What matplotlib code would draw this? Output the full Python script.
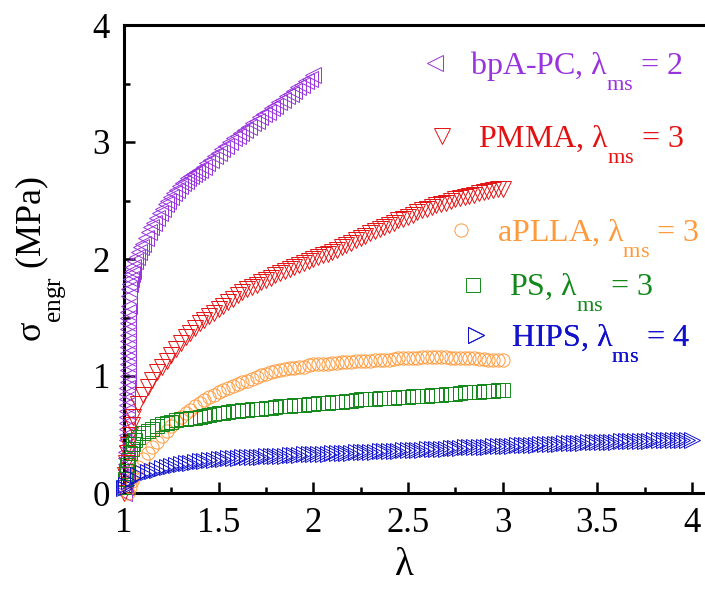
import matplotlib
matplotlib.use('Agg')
import matplotlib.pyplot as plt
from matplotlib.ticker import MultipleLocator, FuncFormatter

plt.rcParams['font.family'] = ['Liberation Serif', 'DejaVu Serif']
plt.rcParams['mathtext.fontset'] = 'custom'
plt.rcParams['mathtext.rm'] = 'Liberation Serif'
plt.rcParams['mathtext.it'] = 'Liberation Serif:italic'
plt.rcParams['mathtext.bf'] = 'Liberation Serif:bold'

# --- data: stretch ratio lambda, engineering stress (MPa) ---
lam_pc = [1.000, 1.003, 1.006, 1.008, 1.010, 1.011, 1.012, 1.013, 1.014, 1.014,
          1.015, 1.015, 1.016, 1.016, 1.017, 1.017, 1.018, 1.018, 1.018, 1.019,
          1.019, 1.019, 1.020, 1.020, 1.020, 1.021, 1.021, 1.021, 1.022, 1.022,
          1.022, 1.023, 1.024, 1.025, 1.027, 1.030, 1.035, 1.040, 1.045, 1.050,
          1.060, 1.070, 1.080, 1.090, 1.100, 1.115, 1.130, 1.145, 1.160, 1.175,
          1.190, 1.205, 1.220, 1.235, 1.250, 1.265, 1.280, 1.295, 1.310, 1.325,
          1.340, 1.355, 1.370, 1.385, 1.400, 1.420, 1.440, 1.460, 1.480, 1.500,
          1.520, 1.540, 1.560, 1.580, 1.600, 1.620, 1.640, 1.660, 1.680, 1.700,
          1.720, 1.740, 1.760, 1.780, 1.800, 1.820, 1.840, 1.860, 1.880, 1.900,
          1.920, 1.940, 1.960, 1.980, 2.000]
sig_pc = [0.00, 0.05, 0.10, 0.15, 0.20, 0.25, 0.30, 0.35, 0.40, 0.45,
          0.50, 0.55, 0.60, 0.65, 0.70, 0.75, 0.80, 0.85, 0.90, 0.95,
          1.00, 1.05, 1.10, 1.15, 1.20, 1.25, 1.30, 1.35, 1.40, 1.45,
          1.50, 1.55, 1.60, 1.68, 1.74, 1.79, 1.83, 1.87, 1.90, 1.93,
          1.98, 2.02, 2.06, 2.10, 2.13, 2.18, 2.23, 2.27, 2.31, 2.35,
          2.39, 2.43, 2.47, 2.50, 2.53, 2.56, 2.59, 2.62, 2.65, 2.67,
          2.69, 2.71, 2.73, 2.745, 2.76, 2.79, 2.82, 2.85, 2.88, 2.91,
          2.94, 2.97, 3.00, 3.03, 3.05, 3.08, 3.10, 3.13, 3.16, 3.18,
          3.21, 3.24, 3.26, 3.29, 3.31, 3.34, 3.36, 3.39, 3.41, 3.44,
          3.47, 3.49, 3.52, 3.54, 3.57]

lam_pmma = [1.000, 1.005, 1.010, 1.015, 1.020, 1.030, 1.040, 1.050, 1.075, 1.100,
            1.125, 1.150, 1.175, 1.200, 1.225, 1.250, 1.275, 1.300, 1.325, 1.350,
            1.375, 1.400, 1.425, 1.450, 1.475, 1.500, 1.525, 1.550, 1.575, 1.600,
            1.625, 1.650, 1.675, 1.700, 1.725, 1.750, 1.775, 1.800, 1.825, 1.850,
            1.875, 1.900, 1.925, 1.950, 1.975, 2.000, 2.025, 2.050, 2.075, 2.100,
            2.125, 2.150, 2.175, 2.200, 2.225, 2.250, 2.275, 2.300, 2.325, 2.350,
            2.375, 2.400, 2.425, 2.450, 2.475, 2.500, 2.525, 2.550, 2.575, 2.600,
            2.625, 2.650, 2.675, 2.700, 2.725, 2.750, 2.775, 2.800, 2.825, 2.850,
            2.875, 2.900, 2.925, 2.950, 2.975, 3.000]
sig_pmma = [0.00, 0.15, 0.26, 0.34, 0.41, 0.50, 0.58, 0.65, 0.76, 0.84,
            0.91, 0.97, 1.03, 1.08, 1.13, 1.18, 1.23, 1.28, 1.33, 1.37,
            1.41, 1.45, 1.48, 1.51, 1.54, 1.57, 1.60, 1.63, 1.66, 1.69,
            1.715, 1.74, 1.76, 1.78, 1.80, 1.82, 1.84, 1.86, 1.88, 1.90,
            1.915, 1.93, 1.95, 1.97, 1.985, 2.00, 2.015, 2.03, 2.045, 2.06,
            2.08, 2.10, 2.12, 2.14, 2.16, 2.18, 2.20, 2.22, 2.24, 2.26,
            2.275, 2.29, 2.31, 2.33, 2.345, 2.36, 2.38, 2.40, 2.415, 2.43,
            2.445, 2.46, 2.47, 2.48, 2.495, 2.51, 2.52, 2.53, 2.54, 2.55,
            2.56, 2.57, 2.58, 2.59, 2.595, 2.60]

lam_plla = [1.020, 1.030, 1.040, 1.050, 1.060, 1.075, 1.100, 1.125, 1.150, 1.175,
            1.200, 1.225, 1.250, 1.275, 1.300, 1.325, 1.350, 1.375, 1.400, 1.425,
            1.450, 1.475, 1.500, 1.525, 1.550, 1.575, 1.600, 1.625, 1.650, 1.675,
            1.700, 1.725, 1.750, 1.775, 1.800, 1.825, 1.850, 1.875, 1.900, 1.925,
            1.950, 1.975, 2.000, 2.025, 2.050, 2.075, 2.100, 2.125, 2.150, 2.175,
            2.200, 2.225, 2.250, 2.275, 2.300, 2.325, 2.350, 2.375, 2.400, 2.425,
            2.450, 2.475, 2.500, 2.525, 2.550, 2.575, 2.600, 2.625, 2.650, 2.675,
            2.700, 2.725, 2.750, 2.775, 2.800, 2.825, 2.850, 2.875, 2.900, 2.925,
            2.950, 2.975, 3.000]
sig_plla = [0.00, 0.05, 0.10, 0.14, 0.18, 0.22, 0.29, 0.34, 0.39, 0.44,
            0.49, 0.53, 0.57, 0.61, 0.65, 0.68, 0.71, 0.74, 0.77, 0.795,
            0.82, 0.84, 0.86, 0.88, 0.90, 0.915, 0.93, 0.945, 0.96, 0.975,
            0.99, 1.005, 1.02, 1.03, 1.04, 1.05, 1.06, 1.065, 1.07, 1.075,
            1.08, 1.09, 1.10, 1.10, 1.10, 1.105, 1.11, 1.115, 1.12, 1.12,
            1.12, 1.125, 1.13, 1.13, 1.13, 1.135, 1.14, 1.14, 1.14, 1.145,
            1.15, 1.15, 1.15, 1.15, 1.155, 1.16, 1.16, 1.16, 1.16, 1.16,
            1.16, 1.155, 1.155, 1.15, 1.15, 1.15, 1.15, 1.145, 1.145, 1.14,
            1.14, 1.14, 1.14]

lam_ps = [1.000, 1.005, 1.010, 1.015, 1.020, 1.030, 1.040, 1.050, 1.060, 1.075,
          1.100, 1.125, 1.150, 1.175, 1.200, 1.225, 1.250, 1.275, 1.300, 1.325,
          1.350, 1.375, 1.400, 1.425, 1.450, 1.475, 1.500, 1.525, 1.550, 1.575,
          1.600, 1.625, 1.650, 1.675, 1.700, 1.725, 1.750, 1.775, 1.800, 1.825,
          1.850, 1.875, 1.900, 1.925, 1.950, 1.975, 2.000, 2.025, 2.050, 2.075,
          2.100, 2.125, 2.150, 2.175, 2.200, 2.225, 2.250, 2.275, 2.300, 2.325,
          2.350, 2.375, 2.400, 2.425, 2.450, 2.475, 2.500, 2.525, 2.550, 2.575,
          2.600, 2.625, 2.650, 2.675, 2.700, 2.725, 2.750, 2.775, 2.800, 2.825,
          2.850, 2.875, 2.900, 2.925, 2.950, 2.975, 3.000]
sig_ps = [0.05, 0.12, 0.19, 0.24, 0.28, 0.34, 0.38, 0.42, 0.45, 0.48,
          0.51, 0.53, 0.55, 0.57, 0.59, 0.60, 0.61, 0.62, 0.63, 0.635,
          0.64, 0.645, 0.65, 0.66, 0.67, 0.675, 0.68, 0.685, 0.69, 0.70,
          0.705, 0.71, 0.71, 0.715, 0.72, 0.72, 0.725, 0.73, 0.735, 0.74,
          0.74, 0.745, 0.75, 0.75, 0.755, 0.76, 0.76, 0.765, 0.77, 0.77,
          0.775, 0.78, 0.78, 0.785, 0.79, 0.795, 0.80, 0.80, 0.80, 0.805,
          0.81, 0.81, 0.81, 0.815, 0.82, 0.82, 0.82, 0.825, 0.83, 0.83,
          0.83, 0.835, 0.84, 0.84, 0.845, 0.85, 0.85, 0.855, 0.86, 0.86,
          0.865, 0.865, 0.87, 0.87, 0.875, 0.88, 0.88]

lam_hips = [1.000, 1.010, 1.025, 1.050, 1.075, 1.100, 1.125, 1.150, 1.175, 1.200,
            1.225, 1.250, 1.275, 1.300, 1.325, 1.350, 1.375, 1.400, 1.425, 1.450,
            1.475, 1.500, 1.525, 1.550, 1.575, 1.600, 1.625, 1.650, 1.675, 1.700,
            1.725, 1.750, 1.775, 1.800, 1.825, 1.850, 1.875, 1.900, 1.925, 1.950,
            1.975, 2.000, 2.025, 2.050, 2.075, 2.100, 2.125, 2.150, 2.175, 2.200,
            2.225, 2.250, 2.275, 2.300, 2.325, 2.350, 2.375, 2.400, 2.425, 2.450,
            2.475, 2.500, 2.525, 2.550, 2.575, 2.600, 2.625, 2.650, 2.675, 2.700,
            2.725, 2.750, 2.775, 2.800, 2.825, 2.850, 2.875, 2.900, 2.925, 2.950,
            2.975, 3.000, 3.025, 3.050, 3.075, 3.100, 3.125, 3.150, 3.175, 3.200,
            3.225, 3.250, 3.275, 3.300, 3.325, 3.350, 3.375, 3.400, 3.425, 3.450,
            3.475, 3.500, 3.525, 3.550, 3.575, 3.600, 3.625, 3.650, 3.675, 3.700,
            3.725, 3.750, 3.775, 3.800, 3.825, 3.850, 3.875, 3.900, 3.925, 3.950,
            3.975, 4.000]
sig_hips = [0.04, 0.07, 0.10, 0.13, 0.15, 0.17, 0.18, 0.19, 0.20, 0.21,
            0.22, 0.23, 0.24, 0.25, 0.255, 0.26, 0.265, 0.27, 0.275, 0.28,
            0.285, 0.29, 0.29, 0.295, 0.30, 0.30, 0.305, 0.305, 0.31, 0.31,
            0.31, 0.315, 0.315, 0.32, 0.32, 0.32, 0.325, 0.325, 0.325, 0.33,
            0.33, 0.33, 0.333, 0.335, 0.337, 0.34, 0.341, 0.342, 0.344, 0.345,
            0.347, 0.35, 0.351, 0.352, 0.354, 0.355, 0.357, 0.36, 0.361, 0.362,
            0.364, 0.365, 0.367, 0.37, 0.371, 0.372, 0.374, 0.375, 0.378, 0.38,
            0.383, 0.385, 0.387, 0.39, 0.39, 0.392, 0.394, 0.395, 0.397, 0.40,
            0.40, 0.40, 0.403, 0.405, 0.407, 0.41, 0.41, 0.412, 0.414, 0.415,
            0.417, 0.42, 0.42, 0.422, 0.424, 0.425, 0.427, 0.43, 0.43, 0.432,
            0.434, 0.435, 0.437, 0.44, 0.44, 0.44, 0.442, 0.443, 0.444, 0.445,
            0.446, 0.447, 0.448, 0.45, 0.45, 0.45, 0.452, 0.452, 0.453, 0.455,
            0.455, 0.455]

names = ['bpA-PC', 'PMMA', 'aPLLA', 'PS', 'HIPS']
lam_ms = [2, 3, 3, 3, 4]

# styles
colors = ['#9933dd', '#e31212', '#ff9a3c', '#13881a', '#1212cc']
markers = ['<', 'v', 'o', 's', '>']
msizes = [11, 11, 9.5, 9.5, 11]
# legend anchors (figure fraction, left / vertical centre of each entry)
leg_pos = [(0.603, 0.880), (0.614, 0.755), (0.641, 0.596), (0.658, 0.503), (0.662, 0.418)]

series = [(lam_pc, sig_pc), (lam_pmma, sig_pmma), (lam_plla, sig_plla),
          (lam_ps, sig_ps), (lam_hips, sig_hips)]

fig = plt.figure(figsize=(7.05, 5.90), dpi=100)
ax = fig.add_axes([124 / 705, 97 / 590, 0.8324, 468 / 590])

handles = []
for (x, y), c, m, ms in zip(series, colors, markers, msizes):
    h, = ax.plot(x, y, linestyle='none', marker=m, markersize=ms,
                 markerfacecolor='none', markeredgecolor=c,
                 markeredgewidth=0.7, clip_on=False, zorder=3)
    handles.append(h)

ax.set_xlim(1.0, 4.1)
ax.set_ylim(0, 4)
ax.xaxis.set_major_locator(MultipleLocator(0.5))
ax.xaxis.set_minor_locator(MultipleLocator(0.25))
ax.yaxis.set_major_locator(MultipleLocator(1))
ax.yaxis.set_minor_locator(MultipleLocator(0.5))
fmt = FuncFormatter(lambda v, p: '%g' % v)
ax.xaxis.set_major_formatter(fmt)
ax.yaxis.set_major_formatter(fmt)

ax.tick_params(which='both', direction='in', top=False, right=False,
               width=1.8, labelsize=25, pad=10)
ax.tick_params(which='major', length=8)
ax.tick_params(which='minor', length=4.5)
for s in ax.spines.values():
    s.set_linewidth(2.2)

# subscripts sit well below the baseline in the original, hence \underset
ax.set_xlabel('λ', fontsize=28)
ax.set_ylabel(r'σ$\underset{\mathrm{engr}}{\ }$ (MPa)', fontsize=26)
ax.xaxis.set_label_coords(0.478, -0.115)
ax.yaxis.set_label_coords(-0.095, 0.50)

for h, n, l, c, pos in zip(handles, names, lam_ms, colors, leg_pos):
    lab = r'%s, λ$\underset{\mathrm{ms}}{\ }$ = %d' % (n, l)
    leg = ax.legend([h], [lab], loc='center left', bbox_to_anchor=pos,
                    bbox_transform=fig.transFigure, frameon=False,
                    fontsize=23, handlelength=0.6, handletextpad=0.8,
                    borderpad=0, borderaxespad=0, numpoints=1)
    for t in leg.get_texts():
        t.set_color(c)
    ax.add_artist(leg)

fig.savefig('out.png', dpi=100)
